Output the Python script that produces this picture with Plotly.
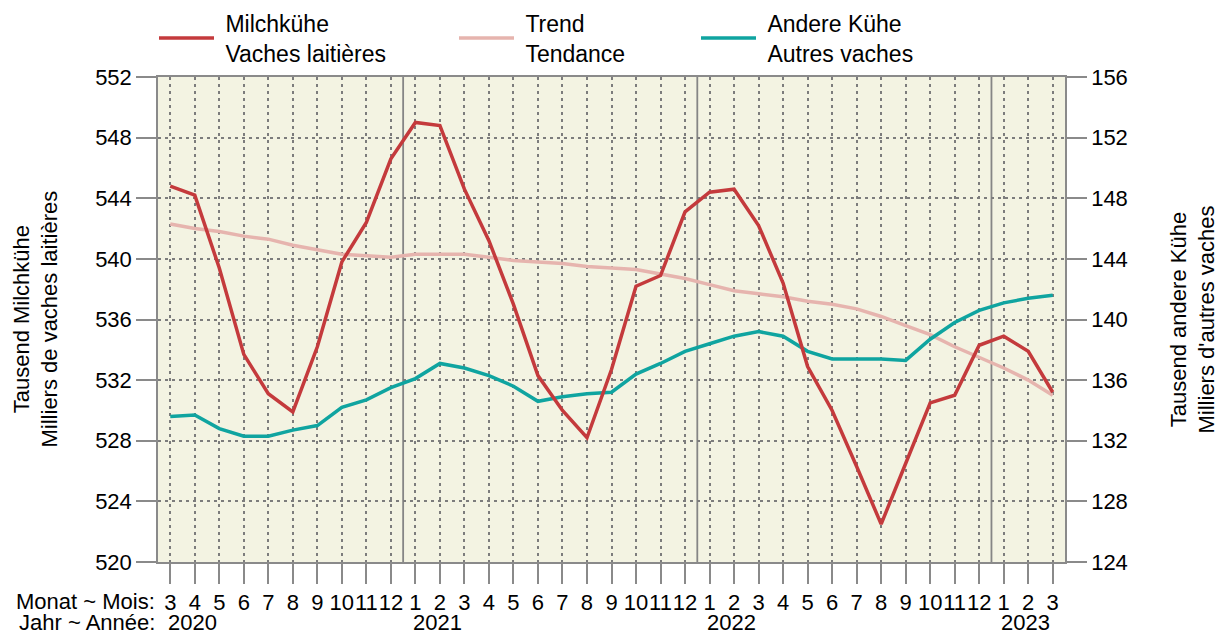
import plotly.graph_objects as go

# ---------------- data ----------------
months = [3, 4, 5, 6, 7, 8, 9, 10, 11, 12,
          1, 2, 3, 4, 5, 6, 7, 8, 9, 10, 11, 12,
          1, 2, 3, 4, 5, 6, 7, 8, 9, 10, 11, 12,
          1, 2, 3]
years = ["2020", "2021", "2022", "2023"]
year_start_idx = [0, 10, 22, 34]

milch = [544.8, 544.2, 539.4, 533.7, 531.1, 529.9, 534.2, 539.8, 542.4, 546.6,
         549.0, 548.8, 544.6, 541.2, 537.0, 532.3, 530.0, 528.2, 532.7, 538.2, 538.9, 543.1,
         544.4, 544.6, 542.2, 538.4, 532.9, 530.0, 526.3, 522.5, 526.5, 530.5, 531.0, 534.3,
         534.9, 533.9, 531.2]
trend = [542.3, 542.0, 541.8, 541.5, 541.3, 540.9, 540.6, 540.3, 540.2, 540.1,
         540.3, 540.3, 540.3, 540.1, 539.9, 539.8, 539.7, 539.5, 539.4, 539.3, 539.0, 538.7,
         538.3, 537.9, 537.7, 537.5, 537.2, 537.0, 536.7, 536.2, 535.6, 535.0, 534.2, 533.5,
         532.8, 532.0, 531.0]
andere = [133.6, 133.7, 132.8, 132.3, 132.3, 132.7, 133.0, 134.2, 134.7, 135.5,
          136.1, 137.1, 136.8, 136.3, 135.6, 134.6, 134.9, 135.1, 135.2, 136.4, 137.1, 137.9,
          138.4, 138.9, 139.2, 138.9, 137.9, 137.4, 137.4, 137.4, 137.3, 138.7, 139.8, 140.6,
          141.1, 141.4, 141.6]

left_ticks = list(range(520, 553, 4))
right_ticks = list(range(124, 157, 4))

# ---------------- styling ----------------
RED = "#C43A3C"
PINK = "#E6B4AE"
TEAL = "#0FA4A0"
BG = "#F3F3E2"
GRID = "#7C7C7C"
AXC = "#8A8A8A"
FONT = "Liberation Sans, Arial, sans-serif"
TS = 22   # tick / annotation font size
LS = 23   # legend font size

x = list(range(len(months)))

fig = go.Figure()
fig.add_trace(go.Scatter(x=x, y=trend, mode="lines", name="&nbsp;Trend<br>&nbsp;Tendance",
                         line=dict(color=PINK, width=3.5), yaxis="y", legend="legend2"))
fig.add_trace(go.Scatter(x=x, y=andere, mode="lines", name="&nbsp;Andere Kühe<br>&nbsp;Autres vaches",
                         line=dict(color=TEAL, width=3.5), yaxis="y2", legend="legend3"))
fig.add_trace(go.Scatter(x=x, y=milch, mode="lines", name="&nbsp;Milchkühe<br>&nbsp;Vaches laitières",
                         line=dict(color=RED, width=3.5), yaxis="y3", legend="legend"))

W, H = 1216, 637
L, R, T, B = 158, 151, 77, 75
pw = W - L - R
ph = H - T - B

def px2paper_x(px):
    return (px - L) / pw

def py2paper_y(py):
    return 1 - (py - T) / ph

leg_common = dict(orientation="h", xanchor="left", yanchor="middle",
                  bgcolor="rgba(0,0,0,0)", font=dict(family=FONT, size=LS, color="black"),
                  itemwidth=55, valign="middle")

fig.update_layout(
    width=W, height=H,
    margin=dict(l=L, r=R, t=T, b=B, autoexpand=False),
    paper_bgcolor="white",
    plot_bgcolor=BG,
    font=dict(family=FONT, size=TS, color="black"),
    xaxis=dict(
        range=[-0.5, 36.5], automargin=False,
        tickmode="array", tickvals=x, ticktext=[str(m) for m in months], tickangle=0,
        ticks="outside", ticklen=20, tickwidth=1.5, tickcolor=AXC,
        showline=True, linecolor=AXC, linewidth=1.5, mirror=True,
        showgrid=True, gridcolor=GRID, gridwidth=1.5, griddash="3px,4px",
        zeroline=False, tickfont=dict(size=TS), ticklabelstandoff=0,
    ),
    yaxis=dict(
        range=[520, 552], tickmode="array", tickvals=left_ticks, automargin=False,
        ticks="outside", ticklen=20, tickwidth=1.5, tickcolor=AXC,
        showline=True, linecolor=AXC, linewidth=1.5,
        showgrid=True, gridcolor=GRID, gridwidth=1.5, griddash="3px,4px",
        zeroline=False, tickfont=dict(size=TS), side="left",
    ),
    yaxis2=dict(
        range=[124, 156], tickmode="array", tickvals=right_ticks, automargin=False,
        overlaying="y", side="right",
        ticks="outside", ticklen=20, tickwidth=1.5, tickcolor=AXC,
        showline=True, linecolor=AXC, linewidth=1.5,
        showgrid=False, zeroline=False, tickfont=dict(size=TS),
    ),
    yaxis3=dict(
        range=[520, 552], overlaying="y", side="left", visible=False,
        showgrid=False, zeroline=False,
    ),
    legend=dict(x=px2paper_x(154), y=py2paper_y(38), **leg_common),
    legend2=dict(x=px2paper_x(454), y=py2paper_y(38), **leg_common),
    legend3=dict(x=px2paper_x(696), y=py2paper_y(38), **leg_common),
    showlegend=True,
)

# year separators
for i in year_start_idx[1:]:
    fig.add_shape(type="line", xref="x", yref="paper", x0=i - 0.5, x1=i - 0.5, y0=0, y1=1,
                  line=dict(color="#858585", width=1.8), layer="between")

annotations = []
# bottom row labels
annotations.append(dict(xref="paper", yref="paper", x=0, y=py2paper_y(601), xshift=-1,
                        text="Monat ~ Mois:", showarrow=False, xanchor="right", yanchor="middle",
                        font=dict(size=TS)))
annotations.append(dict(xref="paper", yref="paper", x=0, y=py2paper_y(637), xshift=-1,
                        text="Jahr ~ Année:", showarrow=False, xanchor="right", yanchor="bottom",
                        font=dict(size=TS)))
for yr, idx in zip(years, year_start_idx):
    annotations.append(dict(xref="x", yref="paper", x=idx - 0.18, y=py2paper_y(637),
                            text=yr, showarrow=False, xanchor="left", yanchor="bottom",
                            font=dict(size=TS)))
# axis titles
annotations.append(dict(xref="paper", yref="paper", x=px2paper_x(35), y=0.5,
                        text="Tausend Milchkühe<br>Milliers de vaches laitières",
                        textangle=-90, showarrow=False, xanchor="center", yanchor="middle",
                        font=dict(size=TS)))
annotations.append(dict(xref="paper", yref="paper", x=px2paper_x(1192), y=0.5,
                        text="Tausend andere Kühe<br>Milliers d'autres vaches",
                        textangle=-90, showarrow=False, xanchor="center", yanchor="middle",
                        font=dict(size=TS)))
fig.update_layout(annotations=annotations)

fig.write_html("out.html", config={"displayModeBar": False},
               post_script="document.body.style.margin='0px';")
